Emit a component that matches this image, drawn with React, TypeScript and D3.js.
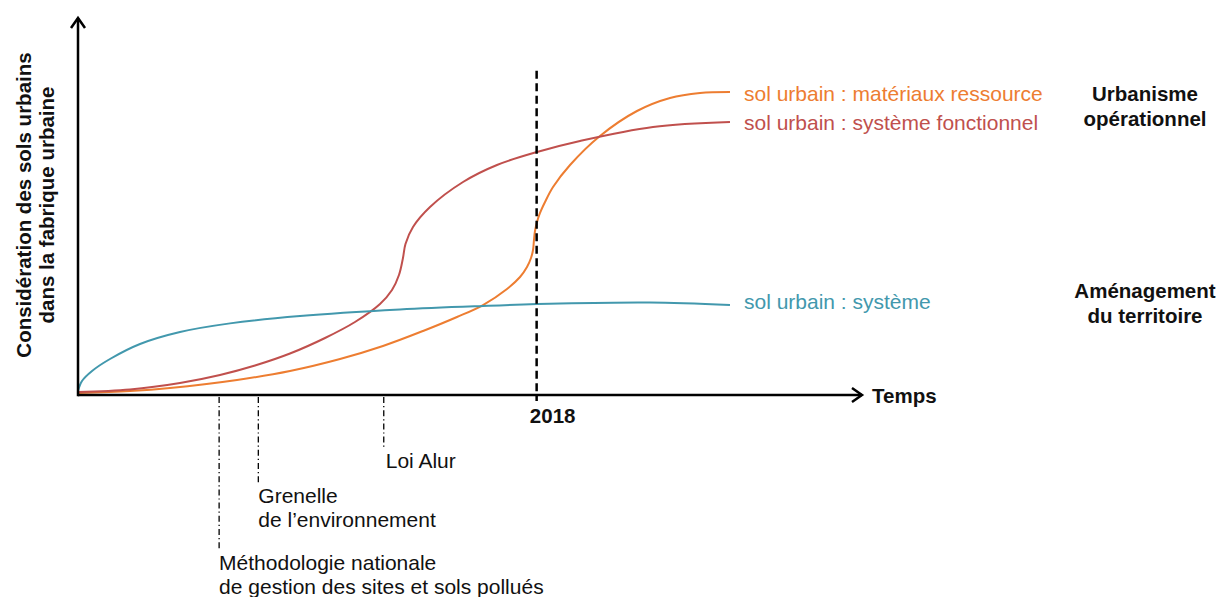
import React from "react";
import * as d3 from "d3";

// ---- data (abstract units: time 0..100, consideration 0..100) ----
type Pt = [number, number];

const systemeSeries: Pt[] = [
  [0, 1.06], [0.51, 3.71], [1.79, 6.37], [4.08, 9.55], [7.91, 13.53],
  [13.01, 16.71], [19.39, 19.0], [28.32, 20.95], [41.07, 22.68],
  [51.66, 23.61], [61.48, 24.27], [72.96, 24.54], [83.16, 23.87],
];

const fonctionnelSeries: Pt[] = [
  [0, 0.8], [6.63, 1.46], [13.01, 3.18], [18.11, 5.31], [22.58, 7.82],
  [27.04, 11.0], [31.51, 15.12], [35.33, 19.36], [38.52, 24.14],
  [40.05, 27.85], [40.94, 31.83], [41.45, 36.34], [41.77, 40.05],
  [42.73, 44.56], [44.9, 49.87], [49.11, 56.5], [53.44, 61.01],
  [58.55, 64.46], [64.03, 67.37], [73.34, 71.09], [83.16, 72.41],
];

const ressourceSeries: Pt[] = [
  [0, 0.53], [6.63, 1.06], [11.73, 1.86], [20.28, 3.98], [27.04, 6.37],
  [33.42, 9.55], [38.9, 13.0], [44.01, 16.98], [48.34, 20.69], [51.66, 23.87],
  [54.72, 28.12], [56.38, 31.3], [57.27, 33.95], [57.78, 36.34],
  [58.04, 38.46], [58.16, 41.11], [58.29, 43.5], [58.55, 45.89],
  [58.93, 48.28], [59.57, 51.19], [60.59, 55.17], [62.76, 61.01],
  [66.58, 68.7], [71.3, 75.33], [75.51, 78.78], [79.34, 80.11], [83.16, 80.37],
];

const seriesNames = [
  "sol urbain : matériaux ressource",
  "sol urbain : système fonctionnel",
  "sol urbain : système",
];
const seriesColors = ["#ED7D31", "#C0504D", "#4298AD"];
const seriesData = [ressourceSeries, fonctionnelSeries, systemeSeries];

const eventTimes = [39.0, 23.0, 18.0];
const eventLabels = [
  ["Loi Alur"],
  ["Grenelle", "de l\u2019environnement"],
  ["Méthodologie nationale", "de gestion des sites et sols pollués"],
];

const markerTime = 58.5;
const markerLabel = "2018";
const markerTop = 86;

const xAxisLabel = "Temps";
const yAxisLabel = ["Considération des sols urbains", "dans la fabrique urbaine"];
const levelLabels = [
  ["Urbanisme", "opérationnel"],
  ["Aménagement", "du territoire"],
];

const W = 1217;
const H = 597;
const FONT = "'Liberation Sans', Arial, sans-serif";

export default function App() {
  const x = d3.scaleLinear().domain([0, 100]).range([78, 862]);
  const y = d3.scaleLinear().domain([0, 100]).range([395, 18]);
  const line = d3
    .line<Pt>()
    .x((d) => x(d[0]))
    .y((d) => y(d[1]))
    .curve(d3.curveCatmullRom.alpha(0.5));

  const x0 = x(0);
  const y0 = y(0);
  const xEnd = x(100);
  const yEnd = y(100);

  const eventBaselines = [468, 503, 570];

  return (
    <svg
      width={W}
      height={H}
      style={{ position: "absolute", left: 0, top: 0, background: "#fff" }}
      fontFamily={FONT}
    >
      {/* curves */}
      {seriesData.map((s, i) => (
        <path
          key={i}
          d={line(s) || ""}
          fill="none"
          stroke={seriesColors[i]}
          strokeWidth={2}
        />
      ))}

      {/* 2018 marker */}
      <line
        x1={x(markerTime)}
        x2={x(markerTime)}
        y1={y(markerTop)}
        y2={y0 + 6}
        stroke="#000"
        strokeWidth={2.5}
        strokeDasharray="8,4.5"
      />
      <text
        x={x(markerTime) + 16}
        y={423}
        textAnchor="middle"
        fontWeight="bold"
        fontSize={20.5}
        fill="#111"
      >
        {markerLabel}
      </text>

      {/* events */}
      {eventTimes.map((t, i) => (
        <g key={i}>
          <line
            x1={x(t)}
            x2={x(t)}
            y1={y0 + 2}
            y2={eventBaselines[i] - 19}
            stroke="#000"
            strokeWidth={1.3}
            strokeDasharray="6,3,1.2,3"
          />
          {eventLabels[i].map((l, j) => (
            <text
              key={j}
              x={x(t) + (i === 0 ? 2 : 0)}
              y={eventBaselines[i] + j * 24}
              fontSize={21}
              fill="#111"
            >
              {l}
            </text>
          ))}
        </g>
      ))}

      {/* axes */}
      <line x1={x0} x2={xEnd} y1={y0} y2={y0} stroke="#000" strokeWidth={2.5} />
      <line x1={x0} x2={x0} y1={y0 + 1.25} y2={yEnd} stroke="#000" strokeWidth={2.5} />
      <path
        d={`M${xEnd - 10},${y0 - 7}L${xEnd},${y0}L${xEnd - 10},${y0 + 7}`}
        fill="none"
        stroke="#000"
        strokeWidth={2.5}
      />
      <path
        d={`M${x0 - 7},${yEnd + 10}L${x0},${yEnd}L${x0 + 7},${yEnd + 10}`}
        fill="none"
        stroke="#000"
        strokeWidth={2.5}
      />
      <text x={xEnd + 10} y={y0 + 7.5} fontWeight="bold" fontSize={20.5} fill="#111">
        {xAxisLabel}
      </text>
      <g transform="translate(0,205) rotate(-90)">
        {yAxisLabel.map((l, j) => (
          <text
            key={j}
            x={0}
            y={31 + j * 23}
            textAnchor="middle"
            fontWeight="bold"
            fontSize={20.5}
            fill="#111"
          >
            {l}
          </text>
        ))}
      </g>

      {/* series labels */}
      {seriesData.map((s, i) => {
        const last = s[s.length - 1];
        const base = [101, 130, 309][i];
        return (
          <text
            key={i}
            x={x(last[0]) + 14}
            y={base}
            fontSize={21}
            fill={seriesColors[i]}
          >
            {seriesNames[i]}
          </text>
        );
      })}

      {/* level labels */}
      {levelLabels.map((ls, i) =>
        ls.map((l, j) => (
          <text
            key={`${i}-${j}`}
            x={1145}
            y={[101, 298][i] + j * 25}
            textAnchor="middle"
            fontWeight="bold"
            fontSize={20.5}
            fill="#111"
          >
            {l}
          </text>
        ))
      )}
    </svg>
  );
}
